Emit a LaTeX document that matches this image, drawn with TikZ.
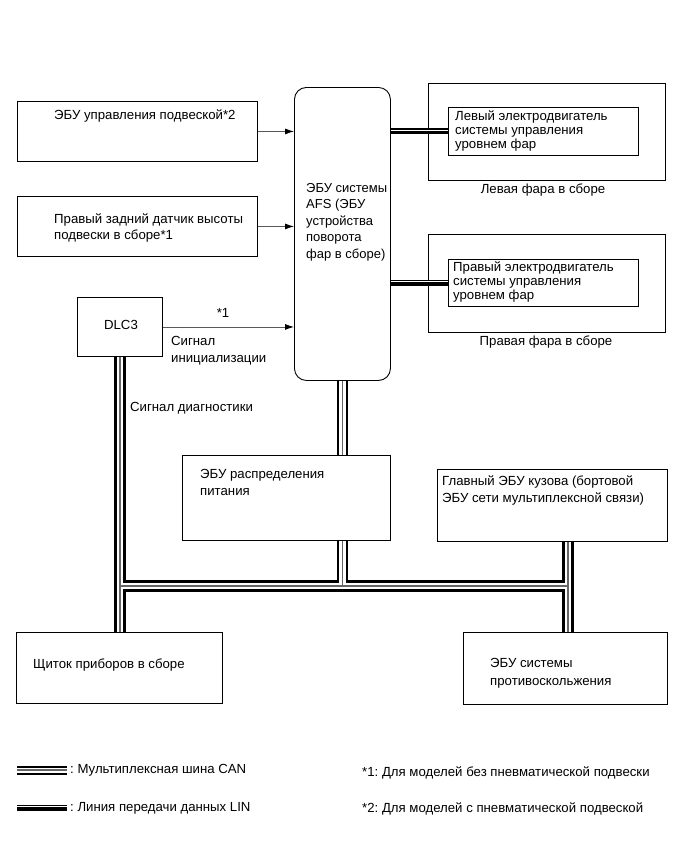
\documentclass[tikz,border=0pt]{standalone}
\usepackage{fontspec}
\setmainfont{Liberation Sans}
\usetikzlibrary{arrows.meta}
\frenchspacing
\begin{document}
\begin{tikzpicture}[x=1pt,y=-1pt,
  box/.style={draw=black, line width=0.9pt, anchor=north west, inner sep=0pt},
  txt/.style={anchor=west, align=left, inner sep=0pt, font=\fontsize{13.2}{15}\selectfont},
  ctxt/.style={anchor=center, align=center, inner sep=0pt, font=\fontsize{13.2}{15}\selectfont},
  arr/.style={draw=black!65, line width=0.8pt, -{Latex[length=9pt,width=6pt,black]}},
  canA/.style={draw=black, line width=11.5pt},
  canB/.style={draw=white, line width=6.5pt},
  canC/.style={draw=black!60, line width=1.1pt},
  linA/.style={draw=black, line width=6pt},
  linB/.style={draw=white, line width=0.8pt, transform canvas={yshift=1.5pt}},
]
\useasboundingbox[fill=white] (0,0) rectangle (691,855);

% top-left boxes
\node[box, minimum width=240pt, minimum height=60pt] (s1) at (17,101) {};
\node[txt] (s1t) at (54,116) {ЭБУ управления подвеской*2};
\node[box, minimum width=240pt, minimum height=60pt] (s2) at (17,196) {};
\node[txt, font=\fontsize{13.2}{16}\selectfont] (s2t) at (54,228) {Правый задний датчик высоты\\подвески в сборе*1};

% AFS ECU
\node[box, rounded corners=12pt, minimum width=96pt, minimum height=293pt] (afs) at (294,87) {};
\node[txt, font=\fontsize{13}{16.5}\selectfont] (afst) at (306,222) {ЭБУ системы\\AFS (ЭБУ\\устройства\\поворота\\фар в сборе)};

% headlamps
\node[box, minimum width=237pt, minimum height=97pt] (hl1) at (428,83) {};
\node[box, minimum width=190pt, minimum height=48pt] (hl1in) at (448,107) {};
\node[txt, font=\fontsize{13.2}{14}\selectfont] (hl1t) at (455,131) {Левый электродвигатель\\системы управления\\уровнем фар};
\node[ctxt] (hl1l) at (543,190) {Левая фара в сборе};

\node[box, minimum width=237pt, minimum height=98pt] (hl2) at (428,234) {};
\node[box, minimum width=190pt, minimum height=47pt] (hl2in) at (448,259) {};
\node[txt, font=\fontsize{13.2}{14}\selectfont] (hl2t) at (453,282) {Правый электродвигатель\\системы управления\\уровнем фар};
\node[ctxt] (hl2l) at (546,342) {Правая фара в сборе};

% DLC3
\node[box, minimum width=85pt, minimum height=59pt] (dlc) at (77,297) {};
\node[ctxt] (dlct) at (121,325) {DLC3};
\node[ctxt] (st1) at (223,313) {*1};
\node[txt, font=\fontsize{13.2}{17}\selectfont] (sinit) at (171,351) {Сигнал\\инициализации};
\node[txt] (sdiag) at (130,408) {Сигнал диагностики};

% middle boxes
\node[box, minimum width=208pt, minimum height=85pt] (pd) at (182,455) {};
\node[txt, font=\fontsize{13.2}{17}\selectfont] (pdt) at (200,482) {ЭБУ распределения\\питания};
\node[box, minimum width=230pt, minimum height=72pt] (mb) at (437,469) {};
\node[txt, font=\fontsize{13.2}{17}\selectfont] (mbt) at (442,490) {Главный ЭБУ кузова (бортовой\\ЭБУ сети мультиплексной связи)};

% bottom boxes
\node[box, minimum width=206pt, minimum height=71pt] (clu) at (16,632) {};
\node[txt] (clut) at (33,665) {Щиток приборов в сборе};
\node[box, minimum width=204pt, minimum height=72pt] (as) at (463,632) {};
\node[txt, font=\fontsize{13.2}{18}\selectfont] (ast) at (490,673) {ЭБУ системы\\противоскольжения};

% signal arrows
\draw[arr] (s1.east) -- (s1.east -| afs.west);
\draw[arr] (s2.east) -- (s2.east -| afs.west);
\draw[arr] (dlc.east) -- (dlc.east -| afs.west);

% LIN lines
\draw[linA] (hl1in.west -| afs.east) -- (hl1in.west);
\draw[linB] (hl1in.west -| afs.east) -- (hl1in.west);
\draw[linA] (hl2in.west -| afs.east) -- (hl2in.west);
\draw[linB] (hl2in.west -| afs.east) -- (hl2in.west);

% CAN network
\coordinate (jL) at (119.5,586);
\coordinate (jR) at (568,586);
\newcommand\cannet[1]{%
  \draw[#1] (dlc.south) -- (dlc.south |- clu.north);
  \draw[#1] (afs.south) -- (afs.south |- pd.north);
  \draw[#1] (pd.south -| afs.south) -- (jL -| afs.south);
  \draw[#1] (jL) -- (jR);
  \draw[#1] (mb.south -| jR) -- (jR |- as.north);
}
\cannet{canA}
\cannet{canB}
\cannet{canC}

% legend
\coordinate (lc1) at (17,770);
\coordinate (lc2) at (67,770);
\draw[canA, line width=9pt] (lc1) -- (lc2);
\draw[canB, line width=5pt] (lc1) -- (lc2);
\draw[canC] (lc1) -- (lc2);
\node[txt] (lct) at (70,770) {: Мультиплексная шина CAN};
\coordinate (ll1) at (17,808);
\coordinate (ll2) at (67,808);
\draw[linA] (ll1) -- (ll2);
\draw[linB] (ll1) -- (ll2);
\node[txt] (llt) at (70,808) {: Линия передачи данных LIN};
\node[txt] (n1) at (362,773) {*1: Для моделей без пневматической подвески};
\node[txt] (n2) at (362,809) {*2: Для моделей с пневматической подвеской};
\end{tikzpicture}
\end{document}
